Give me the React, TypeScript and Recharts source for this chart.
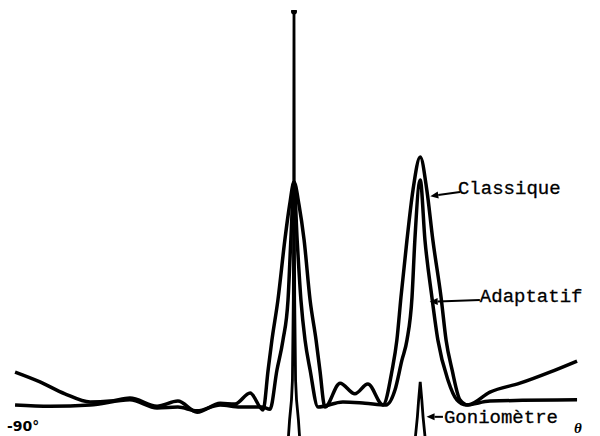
import React from "react";
import { LineChart, Line, XAxis, YAxis, ReferenceLine, ReferenceDot } from "recharts";

// angles in degrees, levels on a relative 0..1 scale (1 = goniometer peak)
const classiqueTheta = [
  -88.4, -80.5, -72.6, -64.6, -58.3, -52.0, -43.4, -36.8, -30.7, -23.4, -18.7, -13.9,
  -9.8, -8.2, -7.0, -5.1, -2.9, -1.4, 0, 1.6, 3.2, 5.1, 7.0, 8.2, 9.8,
  14.6, 19.3, 23.4, 28.2, 31.1, 32.6, 33.9, 35.8, 37.7, 40, 42.1, 44.0, 46.6, 48.2, 50.1, 52.6, 55.1,
  62.1, 71.6, 81.1, 89.7,
];
const classiqueLevel = [
  0.150, 0.127, 0.099, 0.080, 0.082, 0.089, 0.070, 0.082, 0.056, 0.077, 0.075, 0.101,
  0.061, 0.155, 0.225, 0.319, 0.460, 0.542, 0.596, 0.542, 0.460, 0.319, 0.225, 0.155, 0.068,
  0.124, 0.099, 0.122, 0.073, 0.155, 0.225, 0.326, 0.460, 0.577, 0.655, 0.577, 0.460, 0.326, 0.225, 0.155, 0.085, 0.073,
  0.103, 0.124, 0.150, 0.176,
];

const adaptatifTheta = [
  -88.4, -77.3, -64.6, -52.0, -43.4, -36.8, -30.7, -23.4, -17.1, -10.1,
  -7.6, -5.4, -3.5, -1.9, -1.0, 0, 1.0, 2.2, 3.5, 5.1, 7.6,
  15.5, 22.5, 29.2, 32.0, 34.2, 35.8, 37.4, 38.3, 40, 41.5, 43.7, 45.6, 48.8, 51.6, 54.5,
  62.1, 89.7,
];
const adaptatifLevel = [
  0.073, 0.070, 0.073, 0.085, 0.066, 0.068, 0.059, 0.073, 0.068, 0.068,
  0.063, 0.155, 0.225, 0.319, 0.460, 0.596, 0.460, 0.319, 0.225, 0.155, 0.068,
  0.080, 0.077, 0.073, 0.108, 0.178, 0.225, 0.326, 0.460, 0.601, 0.460, 0.326, 0.225, 0.131, 0.085, 0.073,
  0.082, 0.085,
];

// two spikes, split by a null
const gonioTheta = [
  -2.1, -1.75, -1.4, -0.8, -0.5, -0.22, -0.08, 0, 0.08, 0.22, 0.5, 0.8, 1.4, 1.75, 2.1,
  20,
  38.5, 38.5, 39.1, 39.5, 40, 40.5, 40.9, 41.5, 41.5,
];
const gonioLevel: (number | null)[] = [
  -0.03, 0, 0.038, 0.085, 0.131, 0.319, 0.6, 1.0, 0.6, 0.319, 0.131, 0.085, 0.038, 0, -0.03,
  null,
  -0.03, 0, 0.045, 0.085, 0.127, 0.085, 0.045, 0, -0.03,
];

const axisTicks = [-90, 90];
const axisTickLabels = ["-90°", "θ"];

const toPoints = (theta: number[], level: (number | null)[]) =>
  theta.map((t, i) => ({ theta: t, level: level[i] }));

const classiqueData = toPoints(classiqueTheta, classiqueLevel);
const adaptatifData = toPoints(adaptatifTheta, adaptatifLevel);
const gonioData = toPoints(gonioTheta, gonioLevel);
const gonioTop = gonioLevel.indexOf(1.0);

// label arrows: tail near the text, head on the curve
const annotations = [
  { text: "Classique", tail: [52.6, 0.573], head: [43.2, 0.563], dx: -2, dy: 2 },
  { text: "Adaptatif", tail: [58.9, 0.319], head: [43.0, 0.315], dx: 0, dy: 2 },
  { text: "Goniomètre", tail: [47.2, 0.045], head: [42.0, 0.045], dx: 1, dy: 6 },
];

const ink = "#000";

const Arrow = (props: any) => {
  const { x1, y1, x2, y2, text, dx, dy } = props;
  const ang = Math.atan2(y2 - y1, x2 - x1);
  const len = 8;
  const w = 3.5;
  const bx = x2 - len * Math.cos(ang);
  const by = y2 - len * Math.sin(ang);
  const px = -Math.sin(ang) * w;
  const py = Math.cos(ang) * w;
  return (
    <g>
      <line x1={x1} y1={y1} x2={bx} y2={by} stroke={ink} strokeWidth={2} />
      <polygon points={`${x2},${y2} ${bx + px},${by + py} ${bx - px},${by - py}`} fill={ink} />
      <text
        x={x1 + dx}
        y={y1 + dy}
        fontFamily="'Liberation Mono', monospace"
        fontSize={19}
        fill={ink}
        stroke={ink}
        strokeWidth={0.3}
      >
        {text}
      </text>
    </g>
  );
};

// axis end labels, placed on the bottom edge of the plot
const AxisLabel = (props: any) => {
  const { cx, cy, i } = props;
  if (i === 0) {
    return (
      <text x={cx - 3} y={cy - 5} fontFamily="'DejaVu Sans', sans-serif" fontWeight="bold" fontSize={14} fill={ink}>
        {axisTickLabels[0]}
      </text>
    );
  }
  return (
    <text x={cx} y={cy - 3} textAnchor="middle" fontFamily="'Liberation Serif', serif" fontStyle="italic" fontWeight="bold" fontSize={15} fill={ink}>
      {axisTickLabels[1]}
    </text>
  );
};

export default function App() {
  return (
    <div style={{ position: "absolute", left: 0, top: 0, width: 600, height: 436, background: "#fff" }}>
      <LineChart width={600} height={436} margin={{ top: 10, right: 22, bottom: 0, left: 10 }}>
        <XAxis type="number" dataKey="theta" domain={[-90, 90]} hide allowDataOverflow />
        <YAxis hide type="number" domain={[0, 1]} allowDataOverflow />
        <Line
          data={classiqueData}
          dataKey="level"
          type="monotone"
          stroke={ink}
          strokeWidth={3.5}
          dot={false}
          isAnimationActive={false}
        />
        <Line
          data={adaptatifData}
          dataKey="level"
          type="monotone"
          stroke={ink}
          strokeWidth={3.5}
          dot={false}
          isAnimationActive={false}
        />
        <Line
          data={gonioData}
          dataKey="level"
          type="linear"
          stroke={ink}
          strokeWidth={2.8}
          isAnimationActive={false}
          dot={(p: any) =>
            p.index === gonioTop ? (
              <circle key={p.key} cx={p.cx} cy={p.cy + 1.5} r={3} fill={ink} />
            ) : (
              <g key={p.key} />
            )
          }
        />
        {annotations.map((a) => (
          <ReferenceLine
            key={a.text}
            segment={[
              { x: a.tail[0], y: a.tail[1] },
              { x: a.head[0], y: a.head[1] },
            ]}
            shape={(p: any) => <Arrow {...p} text={a.text} dx={a.dx} dy={a.dy} />}
          />
        ))}
        {axisTicks.map((t, i) => (
          <ReferenceDot
            key={t}
            x={t}
            y={0}
            shape={(p: any) => <AxisLabel {...p} i={i} />}
          />
        ))}
      </LineChart>
    </div>
  );
}
